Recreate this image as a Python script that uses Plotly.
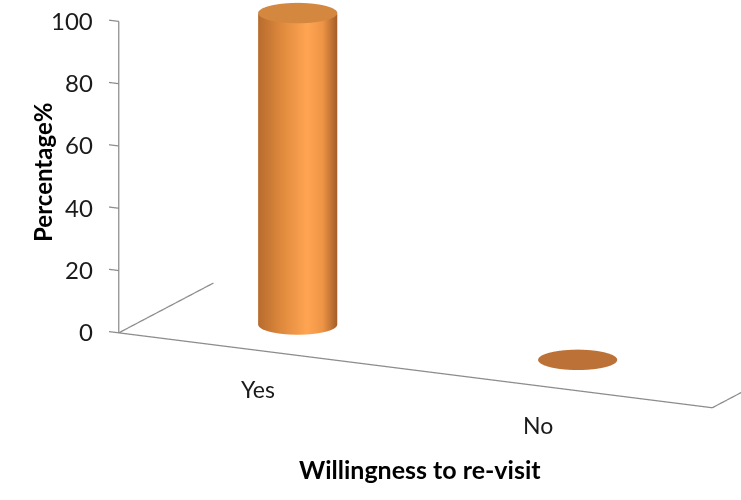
import numpy as np
import plotly.graph_objects as go

# ---- data ----
categories = ["Yes", "No"]
percentages = [100, 0]
z_ticks = [0, 20, 40, 60, 80, 100]
z_tick_labels = ["0", "20", "40", "60", "80", "100"]
x_title = "Willingness to re-visit"
y_title = "Percentage%"

# ---- camera calibration (orthographic view fitted to the reference layout) ----
SC = np.array([370.5, 250.0])
ORTHO_PX = 250.0  # plotly orthographic: px per scene unit for a 500px tall domain

def basis(az, el):
    d = np.array([np.sin(az) * np.cos(el), -np.cos(az) * np.cos(el), np.sin(el)])
    fw = -d
    rt = np.cross(fw, [0, 0, 1.0]); rt /= np.linalg.norm(rt)
    up = np.cross(rt, fw)
    return d, fw, rt, up

def proj(pts, p):
    az, el, ox, oy, ky, kz, xl, xr, r, S = p
    d, fw, rt, up = basis(az, el)
    s = pts * np.array([1.0, ky, kz])
    return np.stack([SC[0] + ox + S * (s @ rt), SC[1] + oy - S * (s @ up)], axis=1)

def circ(xc, yc, z, p):
    th = np.linspace(0, 2 * np.pi, 181)
    return np.stack([xc + p[8] * np.cos(th), yc + (p[8] / p[4]) * np.sin(th), np.full_like(th, z)], axis=1)

def resid(p):
    xl, xr = p[6], p[7]
    pts = np.array([[xl, 0, 0], [xl, 0, 100], [xl, 1, 0], [xr, 0, 0], [0, 0.5, 0], [0, 0.5, 100], [1, 0.5, 0]])
    tg = np.array([[122, 333], [116, 20], [213, 282], [712, 410], [298, 326], [297, 14.5], [578, 357]])
    wt = np.array([1.2, 1.2, 0.7, 1.0, 1.2, 1.2, 1.2])
    out = list(((proj(pts, p) - tg) * wt[:, None]).ravel())
    ry = p[8] / p[4]
    for xc, yc, z, w, h in [(1, 0.5, 0, 78, 24), (0, 0.5, 100, 80, 13), (0, 0.5, 0, 80, 15)]:
        e = proj(circ(xc, yc, z, p), p)
        out.append(e[:, 0].max() - e[:, 0].min() - w)
        out.append((e[:, 1].max() - e[:, 1].min() - h) * 0.5)
        fb = proj(np.array([[xc, yc - ry, z], [xc, yc + ry, z]]), p)
        out.append(max(0.0, 6 - (fb[0, 1] - fb[1, 1])) * 6)
    return np.array(out)

def fit(q, iters=400):
    lam = 1e-2
    cost = np.sum(resid(q) ** 2)
    for it in range(iters):
        r0 = resid(q)
        J = np.zeros((r0.size, q.size))
        for j in range(q.size):
            h = 1e-6 * max(1.0, abs(q[j]))
            qq = q.copy(); qq[j] += h
            J[:, j] = (resid(qq) - r0) / h
        A = J.T @ J; g = J.T @ r0
        try:
            dp = np.linalg.solve(A + lam * np.diag(np.diag(A) + 1e-9), -g)
        except Exception:
            lam *= 10; continue
        qn = q + dp
        cn = np.sum(resid(qn) ** 2)
        if np.isfinite(cn) and cn < cost:
            q, cost = qn, cn; lam = max(lam / 3, 1e-9)
        else:
            lam *= 3
            if lam > 1e8:
                break
    return q, cost

p0 = np.array([0.3136, 0.3233, -109.53, 111.15, 0.8144, 0.0114, -0.4857, 1.6097, 0.1281, 294.71])
p, cost = fit(p0, 600)
AZ, EL, OX, OY, KY, KZ, XL, XR, R, S = p
dvec, fw, rt, upv = basis(AZ, EL)
M = S / ORTHO_PX
Cs = (-OX / S) * rt + (OY / S) * upv

X_RANGE = [XL - 0.3, XR + 0.02]
Y_RANGE = [-0.03, 1.03]
Z_RANGE = [-1, 101]
K = np.array([1.0, KY, KZ])
MID = np.array([sum(X_RANGE) / 2, sum(Y_RANGE) / 2, sum(Z_RANGE) / 2])
ASP = M * K * np.array([X_RANGE[1] - X_RANGE[0], Y_RANGE[1] - Y_RANGE[0], Z_RANGE[1] - Z_RANGE[0]])
CEN = M * (Cs - K * MID)
EYE = CEN + 2.5 * dvec

# ---- figure ----
side_scale = [[0.0, "#b86c2e"], [0.3, "#e08a3e"], [0.62, "#ffa552"], [0.82, "#ee9446"], [1.0, "#a45e28"]]
FONT = "Lato, 'Open Sans', sans-serif"
fig = go.Figure()
theta = np.linspace(0, 2 * np.pi, 97)
flat = dict(ambient=1.0, diffuse=0.0, specular=0.0, roughness=1.0, fresnel=0.0)
RYD = R / KY
u = (np.cos(theta) * rt[0] + np.sin(theta) * rt[1]) / np.hypot(rt[0], rt[1])
shade = (u + 1) / 2
for i, (cat, val) in enumerate(zip(categories, percentages)):
    xs = i + R * np.cos(theta)
    ys = 0.5 + RYD * np.sin(theta)
    if val > 0:
        fig.add_trace(go.Surface(x=np.vstack([xs, xs]), y=np.vstack([ys, ys]),
                                 z=np.vstack([np.zeros_like(xs), np.full_like(xs, val)]),
                                 surfacecolor=np.vstack([shade, shade]), cmin=0, cmax=1,
                                 colorscale=side_scale, showscale=False, lighting=flat, hoverinfo="skip"))
    cap = "#d4883f" if val > 0 else "#bc7236"
    rr = np.array([0.0, 1.0])
    fig.add_trace(go.Surface(x=i + np.outer(rr, R * np.cos(theta)), y=0.5 + np.outer(rr, RYD * np.sin(theta)),
                             z=np.full((2, theta.size), float(val)), surfacecolor=np.zeros((2, theta.size)),
                             colorscale=[[0, cap], [1, cap]], showscale=False, lighting=flat, hoverinfo="skip"))

line_style = dict(color="#8c8c8c", width=2.5)
for lx, ly, lz in [([XL, XR], [0, 0], [0, 0]), ([XL, XL], [0, 1], [0, 0]), ([XR, XR], [0, 1], [0, 0]),
                   ([XL, XL], [0, 0], [0, 100])]:
    fig.add_trace(go.Scatter3d(x=lx, y=ly, z=lz, mode="lines", line=line_style, hoverinfo="skip", showlegend=False))
TL = 0.035
for t in z_ticks:
    fig.add_trace(go.Scatter3d(x=[XL - TL, XL], y=[0, 0], z=[t, t], mode="lines", line=line_style,
                               hoverinfo="skip", showlegend=False))
ann3 = []
for t, lab in zip(z_ticks, z_tick_labels):
    ann3.append(dict(x=XL - TL, y=0, z=t, text=lab, showarrow=False, xanchor="right", yanchor="middle",
                     xshift=-14, font=dict(family=FONT, size=24, color="#1a1a1a")))
for i, cat in enumerate(categories):
    ann3.append(dict(x=i, y=0, z=0, text=cat, showarrow=False, xanchor="center", yanchor="middle",
                     xshift=8, yshift=-40, font=dict(family=FONT, size=23, color="#1a1a1a")))
hidden = dict(visible=False, showbackground=False, showgrid=False, zeroline=False, showline=False,
              showticklabels=False, title="", showspikes=False)
fig.update_layout(
    width=741, height=500, paper_bgcolor="white", margin=dict(l=0, r=0, t=0, b=0), showlegend=False,
    scene=dict(domain=dict(x=[0, 1], y=[0, 1]),
               xaxis=dict(range=X_RANGE, **hidden), yaxis=dict(range=Y_RANGE, **hidden),
               zaxis=dict(range=Z_RANGE, **hidden),
               aspectmode="manual", aspectratio=dict(x=ASP[0], y=ASP[1], z=ASP[2]),
               camera=dict(eye=dict(x=EYE[0], y=EYE[1], z=EYE[2]), center=dict(x=CEN[0], y=CEN[1], z=CEN[2]),
                           up=dict(x=0, y=0, z=1), projection=dict(type="orthographic")),
               annotations=ann3),
    annotations=[
        dict(x=0.035, y=0.655, xref="paper", yref="paper", text=f"<b>{y_title}</b>", textangle=-90,
             showarrow=False, font=dict(family=FONT, size=24, color="#000")),
        dict(x=0.567, y=0.028, xref="paper", yref="paper", text=f"<b>{x_title}</b>", showarrow=False,
             font=dict(family=FONT, size=25, color="#000")),
    ],
)
fig.write_html("out.html")
